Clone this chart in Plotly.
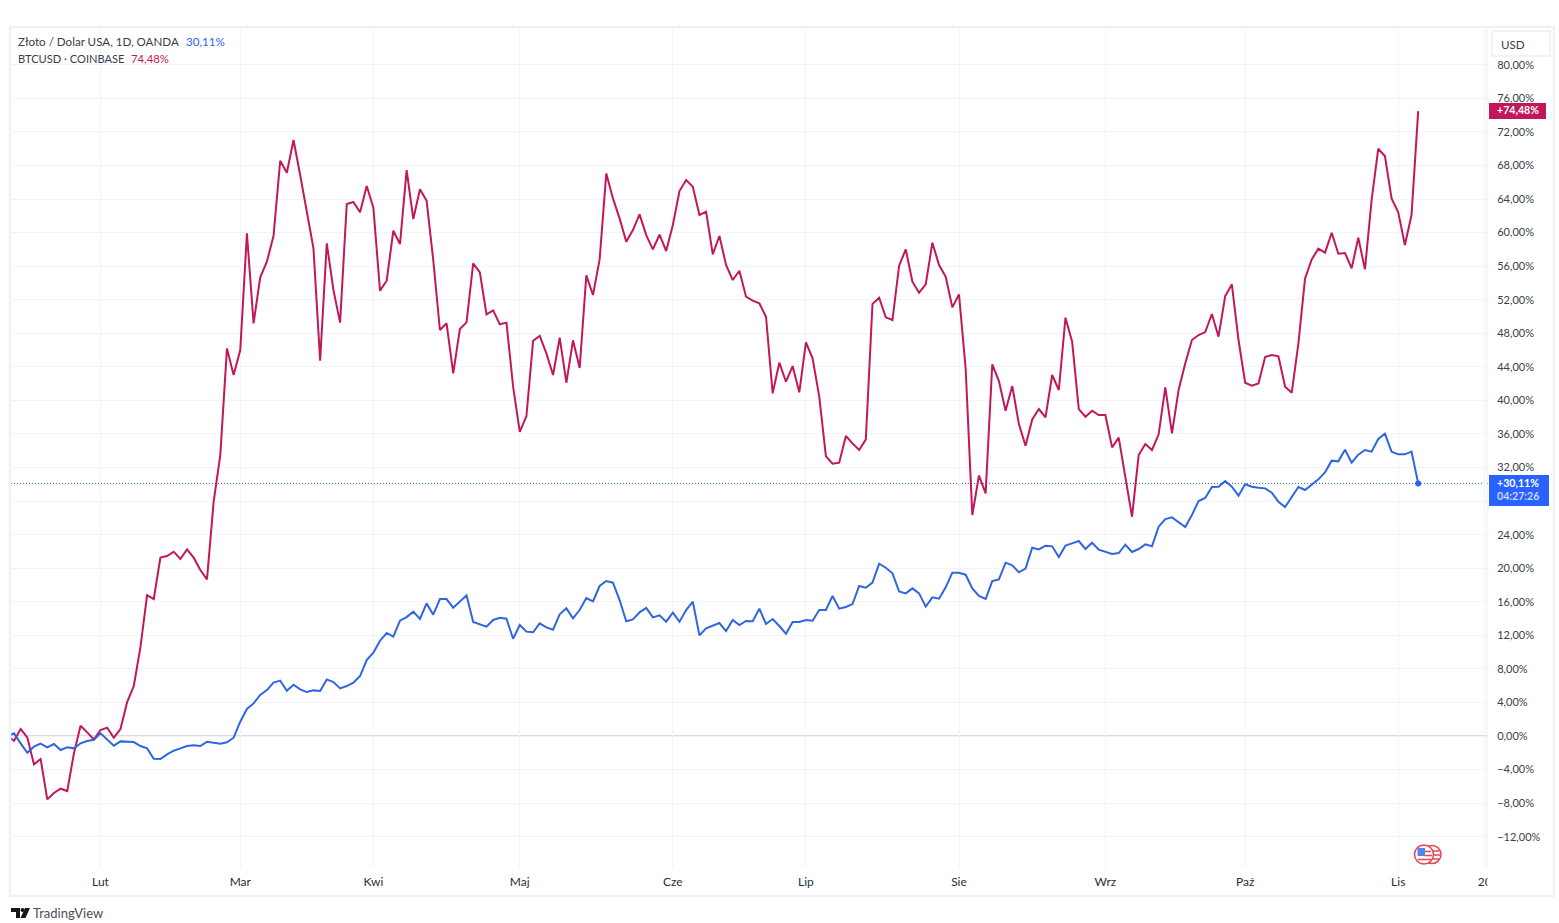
import plotly.graph_objects as go

W, H = 1559, 923
L, R, T, B = 11, 1488, 29, 868
FONT = "Lato"

days = list(range(-1, 212))
gold_pct = [0.0, 0.32, -0.87, -1.99, -1.27, -0.91, -1.35, -0.95, -1.67, -1.35, -1.47, -0.87, -0.60, -0.44, 0.32, -0.40,
 -1.15, -0.64, -0.64, -0.72, -1.19, -1.47, -2.70, -2.74, -2.18, -1.75, -1.47, -1.19, -1.11, -1.19, -0.68, -0.83,
 -0.91, -0.75, -0.20, 1.71, 3.22, 3.89, 4.89, 5.48, 6.36, 6.60, 5.40, 6.12, 5.56, 5.24, 5.44, 5.36, 6.75, 6.44,
 5.68, 5.96, 6.36, 7.15, 9.06, 9.93, 11.36, 12.28, 11.84, 13.75, 14.18, 14.82, 13.95, 15.81, 14.46, 16.33, 16.33,
 15.30, 16.09, 16.77, 13.59, 13.35, 13.03, 13.83, 14.10, 13.98, 11.60, 13.23, 12.44, 12.36, 13.43, 12.95, 12.67,
 14.50, 15.22, 14.02, 15.02, 16.45, 16.05, 17.88, 18.47, 18.28, 16.21, 13.67, 13.90, 14.74, 15.26, 14.14, 14.38,
 13.63, 14.70, 13.63, 15.02, 16.01, 12.00, 12.83, 13.11, 13.47, 12.51, 13.83, 13.23, 13.71, 13.67, 15.18, 13.35,
 13.95, 13.11, 12.20, 13.59, 13.59, 13.83, 13.75, 15.02, 15.02, 16.69, 15.18, 15.38, 15.73, 17.88, 17.68, 18.28,
 20.54, 20.06, 19.39, 17.24, 17.00, 17.60, 17.00, 15.42, 16.53, 16.37, 17.72, 19.47, 19.47, 19.23, 17.60, 16.69,
 16.33, 18.47, 18.67, 20.66, 20.34, 19.51, 19.95, 22.45, 22.25, 22.69, 22.61, 21.34, 22.69, 22.96, 23.24, 22.29,
 23.04, 22.21, 21.97, 21.69, 21.81, 22.80, 21.93, 22.29, 22.84, 22.61, 24.95, 25.86, 26.06, 25.51, 24.91, 26.34,
 28.01, 28.37, 29.68, 29.72, 30.39, 29.72, 28.65, 30.00, 29.72, 29.60, 29.52, 29.00, 27.93, 27.29, 28.41, 29.68,
 29.32, 29.92, 30.59, 31.43, 32.82, 32.74, 34.13, 32.58, 33.53, 34.09, 33.89, 35.40, 36.04, 33.89, 33.57, 33.57,
 33.89, 30.11]
btc_pct = [0.0, -0.56, 0.83, -0.16, -3.38, -2.74, -7.55, -6.79, -6.28, -6.56, -2.07, 1.23, 0.44, -0.40, 0.72, 1.00,
 -0.20, 0.83, 4.05, 5.96, 10.60, 16.80, 16.33, 21.26, 21.45, 21.97, 21.10, 22.25, 21.26, 19.79, 18.67, 27.93,
 33.49, 46.20, 43.03, 46.00, 59.91, 49.19, 54.67, 56.53, 59.63, 68.57, 67.14, 71.04, 66.87, 62.50, 58.12, 44.74,
 58.72, 53.16, 49.27, 63.41, 63.65, 62.42, 65.55, 62.97, 53.08, 54.27, 60.23, 58.64, 67.46, 61.62, 65.16, 63.81,
 56.73, 48.39, 49.19, 43.23, 48.51, 49.30, 56.34, 55.26, 50.26, 50.74, 49.07, 49.27, 41.64, 36.25, 38.14, 47.10,
 47.70, 45.61, 43.03, 47.48, 42.11, 47.16, 43.86, 54.91, 52.56, 56.81, 67.06, 64.08, 61.70, 58.92, 60.31, 62.18,
 59.71, 58.00, 59.75, 57.81, 60.91, 64.96, 66.27, 65.48, 62.10, 62.50, 57.41, 59.60, 56.14, 54.35, 55.46, 52.36,
 51.89, 51.57, 49.98, 40.84, 44.50, 42.23, 44.10, 40.96, 46.92, 45.01, 40.45, 33.37, 32.46, 32.58, 35.76, 34.88,
 34.09, 35.36, 51.49, 52.24, 49.90, 49.58, 56.06, 58.00, 54.15, 52.84, 53.83, 58.80, 56.14, 54.75, 51.09, 52.64,
 43.80, 26.34, 31.05, 28.92, 44.30, 42.31, 38.78, 41.72, 37.19, 34.60, 37.74, 38.97, 37.98, 43.03, 41.24, 49.86,
 47.00, 38.97, 38.06, 38.78, 38.26, 38.26, 34.41, 35.56, 30.91, 26.14, 33.49, 34.80, 34.09, 35.96, 41.56, 36.07,
 41.24, 44.42, 47.20, 47.79, 48.15, 50.30, 47.60, 52.44, 53.83, 47.20, 42.11, 41.76, 42.03, 45.17, 45.41, 45.25,
 41.64, 40.92, 46.80, 54.55, 56.81, 58.08, 57.61, 59.99, 57.49, 57.57, 55.74, 59.40, 55.62, 63.89, 70.00, 69.13,
 64.08, 62.41, 58.52, 62.10, 74.48]

month_ticks = [13, 34, 54, 76, 99, 119, 142, 164, 185, 208, 221]
month_labels = ["Lut", "Mar", "Kwi", "Maj", "Cze", "Lip", "Sie", "Wrz", "Paź", "Lis", "20"]
pct_ticks = list(range(-12, 84, 4))
# the 28,00% label sits fully behind the blue value tag in the reference, so it stays empty
pct_labels = ["" if v == 28 else (f"{v},00%" if v >= 0 else f"\u2212{-v},00%") for v in pct_ticks]

BLUE = "#2f66e0"
BLUE_TAG = "#2962ff"
RED = "#c2185b"
GRID = "#f3f4f8"
TEXT = "#3a3e4a"

def px(x): return (x - L) / (R - L)
def py(y): return (B - y) / (B - T)

def rect(x0, y0, x1, y1, fill, line=None, lw=0):
    return dict(type="rect", xref="paper", yref="paper", x0=px(x0), x1=px(x1), y0=py(y0), y1=py(y1),
                fillcolor=fill, line=dict(color=line or fill, width=lw), layer="above")

def circ(cx, cy, r, fill, line, lw):
    return dict(type="circle", xref="paper", yref="paper", x0=px(cx - r), x1=px(cx + r), y0=py(cy - r), y1=py(cy + r),
                fillcolor=fill, line=dict(color=line, width=lw), layer="above")

def hseg(x0, x1, y, c, lw=1.5):
    return dict(type="line", xref="paper", yref="paper", x0=px(x0), x1=px(x1), y0=py(y), y1=py(y),
                line=dict(color=c, width=lw), layer="above")

def note(x, y, s, c=TEXT, size=12):
    return dict(xref="paper", yref="paper", x=px(x - 2), y=py(y), text=s, showarrow=False, xanchor="left", yanchor="middle",
                font=dict(family=FONT, size=size, color=c))

fig = go.Figure()
fig.add_trace(go.Scatter(x=days, y=btc_pct, mode="lines", line=dict(color=RED, width=2), hoverinfo="skip"))
fig.add_trace(go.Scatter(x=days, y=gold_pct, mode="lines", line=dict(color=BLUE, width=2), hoverinfo="skip"))
fig.add_trace(go.Scatter(x=days[-1:], y=gold_pct[-1:], mode="markers", marker=dict(color=BLUE_TAG, size=6), hoverinfo="skip"))

def poly(points):
    return dict(type="path", xref="paper", yref="paper", layer="above", fillcolor="#131722", line=dict(width=0),
                path="M " + " L ".join(f"{px(a):.5f},{py(b):.5f}" for a, b in points) + " Z")

shapes = [
    dict(type="line", xref="paper", yref="y", x0=0, x1=1, y0=gold_pct[-1], y1=gold_pct[-1],
         line=dict(color="#2a6fb5", width=1, dash="1px,2px"), layer="below"),
    dict(type="line", xref="paper", yref="y", x0=0, x1=1, y0=0, y1=0,
         line=dict(color="#b2b5be", width=1), layer="below"),
    # frame
    rect(10, 27, 1554, 896, "rgba(0,0,0,0)", "#eff1f5", 2.5),
    hseg(1487, 1487, 29, "#eceef3", 1) | dict(y0=py(29), y1=py(868)),
    rect(1487.5, 872, 1495, 892, "#ffffff"),
    # USD button, with its white halo that cuts the top of the 80,00% label
    rect(1490, 30, 1552, 60.5, "#ffffff"),
    dict(type="rect", xref="paper", yref="paper", x0=px(1492), x1=px(1550), y0=py(31), y1=py(56),
         fillcolor="#ffffff", line=dict(color="#eceef3", width=1.5), layer="above"),
    # value tags
    rect(1489, 103, 1546, 119, RED),
    rect(1489, 475, 1549, 506, BLUE_TAG),
    # news flags
    circ(1432, 854.5, 9, "#ffffff", "#e8434f", 1.5),
    hseg(1430, 1439, 851, "#e8434f"), hseg(1430, 1440, 855, "#e8434f"), hseg(1430, 1439, 859, "#e8434f"),
    circ(1424, 854.5, 9.5, "#ffffff", "#e8434f", 1.5),
    hseg(1424, 1431, 851.5, "#e8434f"), hseg(1424, 1432, 855.5, "#e8434f"), hseg(1418, 1431, 859.5, "#e8434f"),
    rect(1417.5, 848, 1425, 856, "#4f86e8"),
    # logo
    poly([(11, 908), (20, 908), (20, 918), (16, 918), (16, 912), (11, 912)]),
    poly([(25, 908), (30, 908), (25.5, 918), (20.5, 918)]),
    circ(22.5, 910, 2, "#131722", "#131722", 0),
]

annotations = [
    note(18, 42, "Złoto / Dolar USA, 1D, OANDA", size=11.6),
    note(186, 42, "30,11%", c=BLUE_TAG, size=11.6),
    note(18, 59, "BTCUSD · COINBASE", size=11.1),
    note(131, 59, "74,48%", c=RED, size=11.3),
    note(1501, 44.5, "USD", size=11.6),
    note(1497, 110.5, "<b>+74,48%</b>", c="#ffffff", size=10.6),
    note(1497, 482.5, "<b>+30,11%</b>", c="#ffffff", size=10.6),
    note(1497, 496.5, "<b>04:27:26</b>", c="#c9d8ff", size=10.6),
    note(33, 913.5, "TradingView", c="#4a4e59", size=13),
]

fig.update_layout(
    width=W, height=H, paper_bgcolor="#ffffff", plot_bgcolor="#ffffff", showlegend=False,
    margin=dict(l=L, r=W - R, t=T, b=H - B, pad=0),
    font=dict(family=FONT, size=12, color=TEXT),
    shapes=shapes, annotations=annotations,
    xaxis=dict(range=[-0.451, 221.49], tickmode="array", tickvals=month_ticks, ticktext=month_labels,
               showgrid=True, gridcolor=GRID, gridwidth=1, zeroline=False, showline=False,
               ticks="outside", ticklen=3, tickcolor="rgba(0,0,0,0)", tickfont=dict(family=FONT, size=12, color="#2a2e39")),
    yaxis=dict(range=[-15.73, 84.27], side="right", tickmode="array", tickvals=pct_ticks, ticktext=pct_labels,
               showgrid=True, gridcolor=GRID, gridwidth=1, zeroline=False, showline=False,
               ticks="outside", ticklen=6, tickcolor="rgba(0,0,0,0)", tickfont=dict(family=FONT, size=11, color=TEXT)),
)

fig.write_html("out.html", config={"displayModeBar": False}, post_script="document.body.style.margin='0';")
